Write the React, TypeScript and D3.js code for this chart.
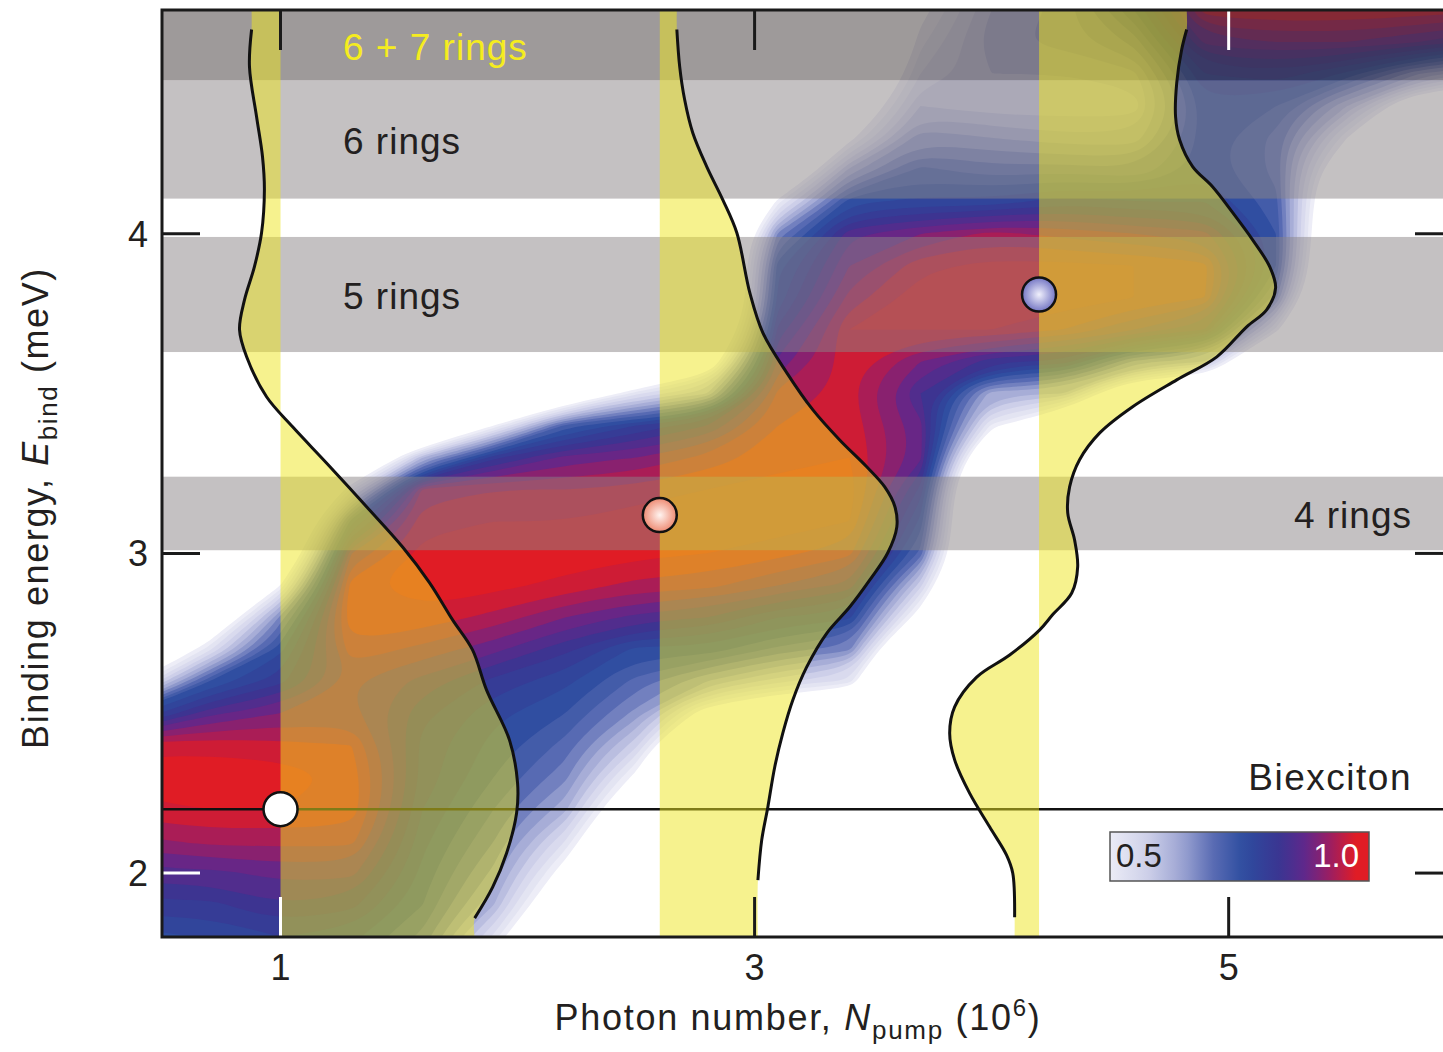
import React from 'react';
import * as d3 from 'd3';

// photon number (10^6) columns and binding energy (meV) rows of the heat map grid
const gridN = [0.4, 0.7, 1.0, 1.3, 1.6, 1.9, 2.2, 2.5, 2.8, 3.1, 3.4, 3.7, 4.0, 4.3, 4.6, 4.9, 5.2, 5.5, 5.8, 6.1];
const gridE = [1.7, 1.8, 1.9, 2.0, 2.1, 2.2, 2.3, 2.4, 2.5, 2.6, 2.7, 2.8, 2.9, 3.0, 3.1, 3.2,
  3.3, 3.4, 3.5, 3.6, 3.7, 3.8, 3.9, 4.0, 4.1, 4.2, 4.3, 4.4, 4.5, 4.6, 4.7, 4.8];

// normalised signal (x100), one column per photon number, listed from E = 1.7 upwards
const heat = [
  [70, 72, 78, 84, 90, 96, 99, 96, 72, 40, 20, 8, 0, 0, 0, 0, 0, 0, 0, 0, 0, 0, 0, 0, 0, 0, 0, 0, 0, 0, 0, 0],
  [70, 73, 78, 84, 92, 97, 99, 96, 84, 70, 45, 25, 10, 0, 0, 0, 0, 0, 0, 0, 0, 0, 0, 0, 0, 0, 0, 0, 0, 0, 0, 0],
  [72, 76, 82, 86, 92, 97, 99, 95, 88, 78, 72, 62, 40, 20, 8, 0, 0, 0, 0, 0, 0, 0, 0, 0, 0, 0, 0, 0, 0, 0, 0, 0],
  [70, 74, 80, 86, 92, 96, 96, 94, 89, 88, 93, 97, 96, 88, 72, 45, 15, 0, 0, 0, 0, 0, 0, 0, 0, 0, 0, 0, 0, 0, 0, 0],
  [62, 66, 70, 72, 74, 76, 78, 78, 80, 84, 90, 96, 99, 98, 96, 92, 55, 10, 0, 0, 0, 0, 0, 0, 0, 0, 0, 0, 0, 0, 0, 0],
  [35, 45, 55, 60, 64, 67, 70, 72, 74, 78, 86, 93, 98, 99, 97, 94, 78, 40, 10, 0, 0, 0, 0, 0, 0, 0, 0, 0, 0, 0, 0, 0],
  [0, 12, 26, 36, 46, 56, 62, 66, 70, 74, 80, 88, 96, 99, 97, 94, 86, 68, 25, 0, 0, 0, 0, 0, 0, 0, 0, 0, 0, 0, 0, 0],
  [0, 0, 0, 8, 15, 25, 38, 50, 60, 66, 72, 84, 93, 98, 99, 95, 88, 76, 45, 12, 0, 0, 0, 0, 0, 0, 0, 0, 0, 0, 0, 0],
  [0, 0, 0, 0, 0, 0, 0, 10, 35, 58, 72, 82, 92, 97, 99, 97, 92, 82, 55, 30, 10, 0, 0, 0, 0, 0, 0, 0, 0, 0, 0, 0],
  [0, 0, 0, 0, 0, 0, 0, 0, 25, 50, 66, 76, 88, 95, 99, 98, 96, 94, 92, 86, 80, 74, 72, 62, 42, 20, 8, 0, 0, 0, 0, 0],
  [0, 0, 0, 0, 0, 0, 0, 0, 20, 45, 62, 74, 84, 92, 97, 99, 97, 96, 95, 96, 97, 92, 88, 84, 72, 56, 38, 28, 20, 12, 5, 0],
  [0, 0, 0, 0, 0, 0, 0, 0, 0, 0, 8, 35, 50, 66, 72, 78, 86, 86, 82, 88, 97, 99, 96, 88, 74, 68, 60, 52, 46, 42, 38, 34],
  [0, 0, 0, 0, 0, 0, 0, 0, 0, 0, 0, 0, 0, 0, 0, 0, 15, 42, 56, 80, 97, 99, 98, 92, 74, 65, 58, 50, 52, 54, 52, 50],
  [0, 0, 0, 0, 0, 0, 0, 0, 0, 0, 0, 0, 0, 0, 0, 0, 0, 25, 55, 78, 94, 99, 98, 90, 78, 66, 56, 50, 52, 56, 56, 56],
  [0, 0, 0, 0, 0, 0, 0, 0, 0, 0, 0, 0, 0, 0, 0, 0, 0, 0, 25, 60, 88, 97, 97, 88, 76, 64, 56, 50, 54, 62, 70, 74],
  [0, 0, 0, 0, 0, 0, 0, 0, 0, 0, 0, 0, 0, 0, 0, 0, 0, 0, 20, 55, 82, 94, 95, 86, 76, 72, 72, 72, 76, 86, 96, 98],
  [0, 0, 0, 0, 0, 0, 0, 0, 0, 0, 0, 0, 0, 0, 0, 0, 0, 0, 0, 12, 42, 62, 70, 70, 68, 66, 66, 70, 78, 88, 97, 99],
  [0, 0, 0, 0, 0, 0, 0, 0, 0, 0, 0, 0, 0, 0, 0, 0, 0, 0, 0, 0, 0, 0, 5, 10, 15, 25, 40, 55, 72, 88, 97, 99],
  [0, 0, 0, 0, 0, 0, 0, 0, 0, 0, 0, 0, 0, 0, 0, 0, 0, 0, 0, 0, 0, 0, 0, 0, 0, 0, 8, 28, 58, 85, 96, 99],
  [0, 0, 0, 0, 0, 0, 0, 0, 0, 0, 0, 0, 0, 0, 0, 0, 0, 0, 0, 0, 0, 0, 0, 0, 0, 0, 0, 20, 50, 80, 95, 99],
];

// shaded ring bands (meV)
const bandNames = ['6 + 7 rings', '6 rings', '5 rings', '4 rings'];
const bandLow = [4.48, 4.11, 3.63, 3.01];
const bandHigh = [4.70, 4.48, 3.99, 3.24];
const biexcitonE = 2.2;

// marked points: photon number and binding energy, also the baselines of the distributions
const dotN = [1.0, 2.6, 4.2];
const dotE = [2.2, 3.12, 3.81];

// energy distributions: [E, width in photon-number units]
const dist1 = [[4.639, -0.122], [4.523, -0.131], [4.366, -0.101], [4.241, -0.076], [4.138, -0.068], [4.003, -0.08],
  [3.897, -0.11], [3.793, -0.152], [3.7, -0.173], [3.615, -0.143], [3.49, -0.059], [3.396, 0.051], [3.283, 0.194],
  [3.146, 0.363], [3.02, 0.515], [2.908, 0.629], [2.792, 0.726], [2.698, 0.81], [2.573, 0.869], [2.416, 0.966],
  [2.282, 1.0], [2.188, 0.996], [2.063, 0.954], [1.956, 0.895], [1.859, 0.819]];
const dist2 = [[4.639, 0.072], [4.523, 0.084], [4.419, 0.105], [4.316, 0.139], [4.21, 0.198], [4.106, 0.266],
  [4.003, 0.325], [3.815, 0.38], [3.69, 0.435], [3.565, 0.536], [3.449, 0.646], [3.355, 0.759], [3.271, 0.873],
  [3.208, 0.949], [3.146, 0.992], [3.083, 1.0], [3.002, 0.962], [2.917, 0.886], [2.833, 0.802], [2.751, 0.705],
  [2.645, 0.62], [2.541, 0.561], [2.438, 0.519], [2.332, 0.485], [2.207, 0.456], [2.103, 0.43], [1.978, 0.414]];
const dist3 = [[4.639, 0.623], [4.577, 0.602], [4.473, 0.581], [4.366, 0.576], [4.294, 0.593], [4.21, 0.648],
  [4.147, 0.732], [4.066, 0.817], [3.981, 0.901], [3.897, 0.973], [3.831, 0.998], [3.762, 0.96], [3.709, 0.876],
  [3.615, 0.75], [3.543, 0.581], [3.459, 0.395], [3.377, 0.256], [3.293, 0.171], [3.208, 0.129], [3.127, 0.121],
  [3.042, 0.15], [2.958, 0.163], [2.876, 0.138], [2.808, 0.057], [2.761, 0.003], [2.682, -0.124], [2.613, -0.263],
  [2.52, -0.356], [2.438, -0.377], [2.354, -0.356], [2.25, -0.293], [2.144, -0.208], [2.056, -0.137],
  [2.0, -0.111], [1.862, -0.103]];

const xTicks = [1, 3, 5];
const yTicks = [2, 3, 4];

const FONT = '"Liberation Sans", Arial, Helvetica, sans-serif';
const X0 = 162, X1 = 1443, Y0 = 10, Y1 = 937;

const x = d3.scaleLinear().domain([0.5, 5.9]).range([X0, 1442]);
const y = d3.scaleLinear().domain([1.8, 4.7]).range([Y1, Y0]);

const heatColor = d3.scaleLinear<string>()
  .domain([0.40, 0.50, 0.58, 0.65, 0.72, 0.80, 0.86, 0.92, 0.97])
  .range(['#f2f2f9', '#d0d2ea', '#9ea5d3', '#5a6cb4', '#2d4c9f', '#3a3592', '#62278a', '#a41d5c', '#e01c25'])
  .interpolate(d3.interpolateRgb)
  .clamp(true);

export default function App() {
  const nx = gridN.length, ny = gridE.length;
  const dN = gridN[1] - gridN[0], dE = gridE[1] - gridE[0];
  const values: number[] = [];
  for (let j = 0; j < ny; j++) for (let i = 0; i < nx; i++) values.push(heat[i][ny - 1 - j] / 100);

  // filled contour levels, smoothed for drawing
  const levels = d3.range(0.40, 0.999, 0.03);
  const contours = d3.contours().size([nx, ny]).thresholds(levels)(values);
  const toPx = (p: number[]): [number, number] =>
    [x(gridN[0] + (p[0] - 0.5) * dN), y(gridE[ny - 1] - (p[1] - 0.5) * dE)];
  const ringLine = d3.line().curve(d3.curveBasisClosed);
  const heatPaths = contours.map(c => ({
    v: c.value,
    d: c.coordinates.map(poly => poly.map(ring => ringLine(ring.slice(0, -1).map(toPx))).join('')).join(''),
  }));

  const curveLine = d3.line<number[]>()
    .x(d => d[0]).y(d => d[1])
    .curve(d3.curveCatmullRom);

  const dists = [dist1, dist2, dist3].map((dist, k) => {
    const base = dotN[k];
    const pts = dist.map(([e, w]) => [x(base + w), y(e)]);
    const first = pts[0], last = pts[pts.length - 1];
    const fillPts = [[first[0], Y0], ...pts, [last[0], Y1]];
    const fill = curveLine(fillPts) + `L${x(base)},${Y1}L${x(base)},${Y0}Z`;
    return { fill, stroke: curveLine(pts) };
  });

  const dotFill = ['#ffffff', 'url(#gPink)', 'url(#gBlue)'];

  const cbX = 1110, cbY = 832, cbW = 259, cbH = 49;
  const cbStops = d3.range(0, 1.0001, 0.05).map(t => ({ t, c: heatColor(0.42 + t * 0.58) }));

  const tickColor = (axis: string, v: number) =>
    (axis === 'bottom' && v === 1) || (axis === 'top' && v === 5) || (axis === 'left' && v === 2) ? '#ffffff' : '#1a1a1a';

  return (
    <svg width={1443} height={1052} style={{ position: 'absolute', left: 0, top: 0, display: 'block' }}
      fontFamily={FONT}>
      <defs>
        <clipPath id="plotClip"><rect x={X0} y={Y0} width={X1 - X0} height={Y1 - Y0} /></clipPath>
        <radialGradient id="gPink" cx="50%" cy="50%" r="50%">
          <stop offset="0%" stopColor="#fff4f0" />
          <stop offset="100%" stopColor="#ee8a72" />
        </radialGradient>
        <radialGradient id="gBlue" cx="50%" cy="50%" r="50%">
          <stop offset="0%" stopColor="#f0f0fc" />
          <stop offset="100%" stopColor="#7476c4" />
        </radialGradient>
        <linearGradient id="gBar" x1="0" x2="1" y1="0" y2="0">
          {cbStops.map(s => <stop key={s.t} offset={`${s.t * 100}%`} stopColor={s.c} />)}
        </linearGradient>
      </defs>

      <rect x={0} y={0} width={1443} height={1052} fill="#ffffff" />

      <g clipPath="url(#plotClip)">
        {heatPaths.map(p => (
          <path key={p.v} d={p.d} fill={heatColor(p.v + 0.015)} fillRule="evenodd" />
        ))}

        {bandNames.map((name, i) => (
          <rect key={name} x={X0} width={X1 - X0} y={y(bandHigh[i])} height={y(bandLow[i]) - y(bandHigh[i])}
            fill={i === 0 ? '#3d3535' : '#898385'} fillOpacity={0.5} />
        ))}

        <line x1={X0} x2={X1} y1={y(biexcitonE)} y2={y(biexcitonE)} stroke="#111" strokeWidth={2.5} />

        {dists.map((d, i) => (
          <path key={i} d={d.fill} fill="#eee51e" fillOpacity={0.5} />
        ))}
        {dists.map((d, i) => (
          <path key={i} d={d.stroke ?? ''} fill="none" stroke="#111" strokeWidth={3} />
        ))}
      </g>

      {dotN.map((n, i) => (
        <circle key={i} cx={x(n)} cy={y(dotE[i])} r={17} fill={dotFill[i]} stroke="#111" strokeWidth={2.5} />
      ))}

      <text x={343} y={60} fontSize={37} letterSpacing={1} fill="#f5ec1f">{bandNames[0]}</text>
      <text x={343} y={154} fontSize={37} letterSpacing={1} fill="#231f20">{bandNames[1]}</text>
      <text x={343} y={309} fontSize={37} letterSpacing={1} fill="#231f20">{bandNames[2]}</text>
      <text x={1412} y={528} fontSize={37} letterSpacing={1} textAnchor="end" fill="#231f20">{bandNames[3]}</text>
      <text x={1412} y={790} fontSize={37} letterSpacing={1.5} textAnchor="end" fill="#231f20">Biexciton</text>

      <rect x={cbX} y={cbY} width={cbW} height={cbH} fill="url(#gBar)" stroke="#555" strokeWidth={1.5} />
      <text x={cbX + 6} y={cbY + 35} fontSize={33} fill="#231f20">0.5</text>
      <text x={cbX + cbW - 10} y={cbY + 35} fontSize={33} fill="#ffffff" textAnchor="end">1.0</text>

      {xTicks.map(t => (
        <g key={t}>
          <line x1={x(t)} x2={x(t)} y1={Y1} y2={Y1 - 40} stroke={tickColor('bottom', t)} strokeWidth={3} />
          <line x1={x(t)} x2={x(t)} y1={Y0} y2={Y0 + 40} stroke={tickColor('top', t)} strokeWidth={3} />
          <text x={x(t)} y={980} fontSize={36} textAnchor="middle" fill="#231f20">{t}</text>
        </g>
      ))}
      {yTicks.map(t => (
        <g key={t}>
          <line x1={X0} x2={X0 + 38} y1={y(t)} y2={y(t)} stroke={tickColor('left', t)} strokeWidth={3} />
          <line x1={1415} x2={X1} y1={y(t)} y2={y(t)} stroke={tickColor('right', t)} strokeWidth={3} />
          <text x={148} y={y(t) + 13} fontSize={36} textAnchor="end" fill="#231f20">{t}</text>
        </g>
      ))}

      <path d={`M${X1 + 5},${Y0}H${X0}V${Y1}H${X1 + 5}`} fill="none" stroke="#1a1a1a" strokeWidth={3} />

      <text x={798} y={1030} fontSize={36} letterSpacing={1.7} textAnchor="middle" fill="#231f20">
        Photon number, <tspan fontStyle="italic">N</tspan>
        <tspan fontSize={26} dy={9}>pump</tspan>
        <tspan dy={-9}> (10</tspan>
        <tspan fontSize={24} dy={-14}>6</tspan>
        <tspan dy={14}>)</tspan>
      </text>
      <text transform="translate(48,508) rotate(-90)" fontSize={36} letterSpacing={1.6} textAnchor="middle"
        fill="#231f20">
        Binding energy, <tspan fontStyle="italic">E</tspan>
        <tspan fontSize={26} dy={9}>bind</tspan>
        <tspan dy={-9}> (meV)</tspan>
      </text>
    </svg>
  );
}
